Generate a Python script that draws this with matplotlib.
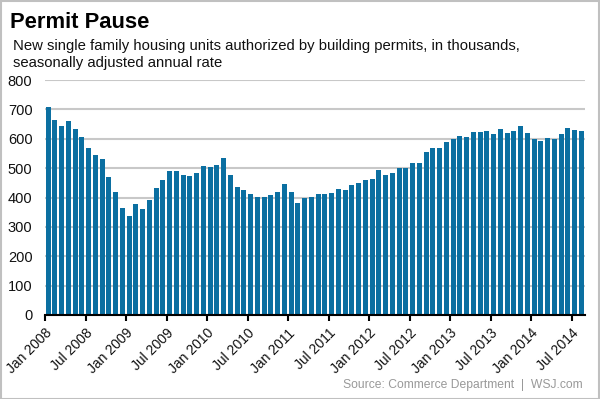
import numpy as np
import matplotlib
matplotlib.use("Agg")
import matplotlib.pyplot as plt
from matplotlib.patches import Rectangle

plt.rcParams['font.family'] = ['Liberation Sans', 'DejaVu Sans']

# monthly permits, Jan 2008 - Aug 2014 (thousands, SAAR)
permits = [
    707, 665, 642, 662, 634, 606, 570, 543, 530, 469, 419, 364,   # 2008
    336, 378, 362, 391, 431, 458, 489, 491, 477, 473, 483, 508,   # 2009
    503, 510, 536, 476, 435, 425, 411, 402, 403, 408, 418, 447,   # 2010
    420, 380, 400, 402, 411, 412, 417, 428, 425, 441, 450, 459,   # 2011
    464, 492, 478, 485, 501, 501, 519, 516, 556, 570, 570, 590,   # 2012
    599, 611, 605, 623, 624, 627, 617, 632, 618, 625, 645, 618,   # 2013
    600, 594, 601, 599, 615, 635, 631, 626,                       # 2014
]
tick_labels = ['Jan 2008', 'Jul 2008', 'Jan 2009', 'Jul 2009', 'Jan 2010', 'Jul 2010',
               'Jan 2011', 'Jul 2011', 'Jan 2012', 'Jul 2012', 'Jan 2013', 'Jul 2013',
               'Jan 2014', 'Jul 2014']
y_ticks = [0, 100, 200, 300, 400, 500, 600, 700, 800]

fig = plt.figure(figsize=(6, 3.99), dpi=100)
ax = fig.add_axes([45/600, 1 - 315/399, 540/600, 235/399])

x = np.arange(len(permits))
ax.bar(x + 0.1, permits, width=0.74, align='edge', color='#0b6fa1', zorder=2)

ax.set_xlim(0, len(permits))
ax.set_ylim(0, 800)
ax.set_yticks(y_ticks)
ax.set_xticks(np.arange(0, len(permits), 6))
ax.set_xticklabels(tick_labels, rotation=45, ha='right', rotation_mode='anchor')
ax.tick_params(axis='y', length=0, pad=9, labelsize=10.5, labelcolor='#111111')
ax.tick_params(axis='x', length=4, width=1.5, color='black', direction='out',
               pad=4, labelsize=10, labelcolor='#111111')
ax.grid(axis='y', color='#c8c8c8', linewidth=1.5, zorder=0)
ax.set_axisbelow(True)
for s in ['top', 'right', 'left']:
    ax.spines[s].set_visible(False)
ax.spines['bottom'].set_linewidth(1.5)
ax.spines['bottom'].set_zorder(3)

fig.text(10/600, 1 - 28/399, 'Permit Pause', fontsize=15.8, weight='bold', va='baseline')
fig.text(13/600, 1 - 50/399, 'New single family housing units authorized by building permits, in thousands,',
         fontsize=10.7, va='baseline', color='#111111')
fig.text(13/600, 1 - 67/399, 'seasonally adjusted annual rate', fontsize=10.7, va='baseline', color='#111111')
fig.text(583/600, 1 - 388/399, 'Source: Commerce Department  |  WSJ.com', fontsize=8.7,
         ha='right', va='baseline', color='#999999')

fig.patches.append(Rectangle((0.001, 0.001), 0.997, 0.997, transform=fig.transFigure,
                             fill=False, edgecolor='#c0c0c0', linewidth=1.5))

fig.savefig('out.png', dpi=100)
